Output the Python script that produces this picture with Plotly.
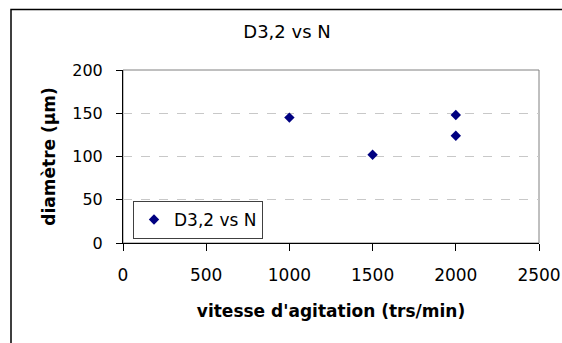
import plotly.graph_objects as go

# Data
vitesse = [1000, 1500, 2000, 2000]          # trs/min
diametre = [145, 102, 148, 124]              # µm
series_name = "D3,2 vs N"
chart_title = "D3,2 vs N"
x_title = "vitesse d'agitation (trs/min)"
y_title = "diamètre (µm)"
x_ticks = [0, 500, 1000, 1500, 2000, 2500]
y_ticks = [0, 50, 100, 150, 200]

FONT = "DejaVu Sans, Arial, sans-serif"

W, H = 562, 343
L, T = 123, 70
R = W - 539
B = H - 243
pw, ph = W - L - R, H - T - B


def px_x(px):  # window pixel -> paper x
    return (px - L) / pw


def px_y(py):  # window pixel -> paper y
    return (243 - py) / ph


fig = go.Figure()
fig.add_trace(go.Scatter(
    x=vitesse, y=diametre, mode="markers", name=series_name,
    marker=dict(symbol="diamond", size=8, color="#000080"),
    showlegend=True,
))

fig.update_layout(
    width=W, height=H, autosize=False,
    margin=dict(l=L, r=R, t=T, b=B, autoexpand=False),
    paper_bgcolor="white", plot_bgcolor="white",
    font=dict(family=FONT, color="black", size=16),
    title=dict(text=chart_title, x=(243 + 44) / W, xanchor="center", xref="container",
               y=1 - 32 / H, yanchor="middle", yref="container",
               font=dict(size=18, family=FONT, color="black")),
    xaxis=dict(range=[0, 2500], tickvals=x_ticks, showgrid=False, zeroline=False,
               showline=True, linecolor="black", linewidth=1, automargin=False,
               ticks="outside", ticklen=7, tickcolor="black",
               tickfont=dict(size=17), ticklabelstandoff=10,
               title=dict(text=x_title, font=dict(size=17, family=FONT, weight="bold"),
                          standoff=20)),
    yaxis=dict(range=[0, 200], tickvals=y_ticks, showgrid=True, gridcolor="#c8c8c8",
               griddash="dash", gridwidth=1, zeroline=False, automargin=False,
               showline=True, linecolor="black", linewidth=1,
               ticks="outside", ticklen=6, tickcolor="black",
               tickfont=dict(size=16), ticklabelstandoff=10,
               title=dict(text=y_title, font=dict(size=17, family=FONT, weight="bold"),
                          standoff=12)),
    legend=dict(x=px_x(133), y=px_y(201), xanchor="left", yanchor="top",
                bgcolor="white", bordercolor="#404040", borderwidth=1,
                font=dict(size=17, family=FONT), itemwidth=30,
                tracegroupgap=0),
)

# plot area border (gray on top/right), outer chart border (black)
fig.add_shape(type="rect", xref="paper", yref="paper", x0=0, x1=1, y0=0, y1=1,
              line=dict(color="#808080", width=1), layer="below")
fig.add_shape(type="rect", xref="paper", yref="paper",
              x0=px_x(11), x1=px_x(600),
              y0=px_y(400), y1=px_y(9.5),
              line=dict(color="black", width=1.5), layer="below")

fig.write_html("out.html",
               config={"displayModeBar": False, "responsive": False},
               post_script="document.body.style.margin='0';"
                           "document.body.style.overflow='hidden';")
